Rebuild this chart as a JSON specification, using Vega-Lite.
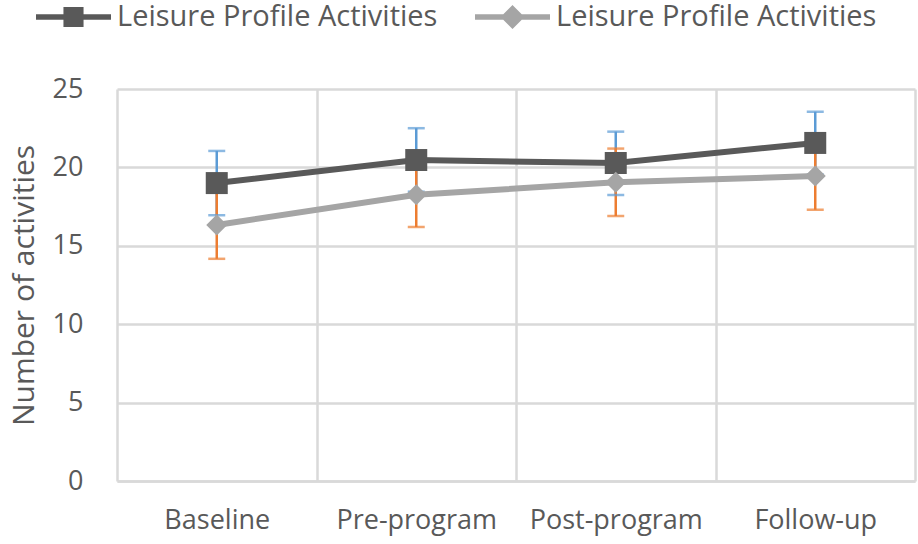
{
  "$schema": "https://vega.github.io/schema/vega-lite/v6.json",
  "width": 798,
  "height": 392,
  "autosize": {"type": "none"},
  "padding": {"left": 117, "top": 89, "right": 3, "bottom": 63},
  "background": "white",
  "data": {
    "values": [
      {"stage": "Baseline", "series": "dark", "mean": 19.0, "low": 16.95, "high": 21.05},
      {"stage": "Pre-program", "series": "dark", "mean": 20.47, "low": 18.45, "high": 22.5},
      {"stage": "Post-program", "series": "dark", "mean": 20.28, "low": 18.24, "high": 22.28},
      {"stage": "Follow-up", "series": "dark", "mean": 21.56, "low": 19.55, "high": 23.55},
      {"stage": "Baseline", "series": "light", "mean": 16.33, "low": 14.17, "high": 18.5},
      {"stage": "Pre-program", "series": "light", "mean": 18.25, "low": 16.2, "high": 20.3},
      {"stage": "Post-program", "series": "light", "mean": 19.05, "low": 16.9, "high": 21.2},
      {"stage": "Follow-up", "series": "light", "mean": 19.45, "low": 17.3, "high": 21.6}
    ]
  },
  "encoding": {
    "x": {
      "field": "stage",
      "type": "nominal",
      "sort": null,
      "title": null,
      "scale": {"type": "band", "paddingInner": 0, "paddingOuter": 0},
      "axis": {
        "labelAngle": 0,
        "labelFontSize": 27,
        "labelPadding": 26,
        "ticks": false,
        "grid": true,
        "tickBand": "extent",
        "domain": true
      }
    }
  },
  "layer": [
    {
      "mark": {"type": "rule", "strokeWidth": 2.5},
      "encoding": {
        "y": {"field": "low", "type": "quantitative", "scale": {"domain": [0, 25], "nice": false}},
        "y2": {"field": "high"},
        "color": {"condition": {"test": "datum.series == 'dark'", "value": "#5B9BD5"}, "value": "#ED7D31"}
      }
    },
    {
      "mark": {"type": "tick", "orient": "horizontal", "size": 17, "thickness": 2.5},
      "encoding": {
        "y": {"field": "low", "type": "quantitative", "scale": {"domain": [0, 25], "nice": false}},
        "color": {"condition": {"test": "datum.series == 'dark'", "value": "#5B9BD5"}, "value": "#ED7D31"}
      }
    },
    {
      "mark": {"type": "tick", "orient": "horizontal", "size": 17, "thickness": 2.5},
      "encoding": {
        "y": {"field": "high", "type": "quantitative", "scale": {"domain": [0, 25], "nice": false}},
        "color": {"condition": {"test": "datum.series == 'dark'", "value": "#5B9BD5"}, "value": "#ED7D31"}
      }
    },
    {
      "mark": {"type": "line", "strokeWidth": 6},
      "encoding": {
        "y": {"field": "mean", "type": "quantitative", "scale": {"domain": [0, 25], "nice": false}},
        "detail": {"field": "series"},
        "color": {"condition": {"test": "datum.series == 'dark'", "value": "#595959"}, "value": "#A5A5A5"}
      }
    },
    {
      "transform": [{"filter": "datum.series == 'dark'"}],
      "mark": {"type": "point", "shape": "square", "filled": true, "opacity": 1, "strokeWidth": 0, "size": 484, "color": "#595959"},
      "encoding": {
        "y": {"field": "mean", "type": "quantitative", "scale": {"domain": [0, 25], "nice": false}}
      }
    },
    {
      "transform": [{"filter": "datum.series == 'light'"}],
      "mark": {"type": "point", "shape": "diamond", "filled": true, "opacity": 1, "strokeWidth": 0, "size": 440, "color": "#A5A5A5"},
      "encoding": {
        "y": {"field": "mean", "type": "quantitative", "scale": {"domain": [0, 25], "nice": false}}
      }
    },
    {
      "mark": {"type": "point", "filled": true, "opacity": 1, "fillOpacity": 1, "strokeWidth": 0},
      "encoding": {
        "y": {
          "field": "mean",
          "type": "quantitative",
          "title": "Number of activities",
          "scale": {"domain": [0, 25], "nice": false},
          "axis": {
            "values": [0, 5, 10, 15, 20, 25],
            "labelFontSize": 27,
            "labelPadding": 34,
            "ticks": false,
            "domain": false,
            "titleFontSize": 30,
            "titleFontWeight": "normal",
            "titlePadding": 13
          }
        },
        "size": {"value": 0},
        "color": {
          "field": "series",
          "type": "nominal",
          "scale": {"domain": ["dark", "light"], "range": ["#595959", "#A5A5A5"]},
          "legend": {
            "orient": "none",
            "legendX": -58.5,
            "legendY": -87,
            "direction": "horizontal",
            "title": null,
            "labelExpr": "'Leisure Profile Activities'",
            "labelFontSize": 29,
            "labelLimit": 500,
            "labelOffset": 28.5,
            "symbolSize": 900,
            "symbolOpacity": 1,
            "symbolStrokeWidth": 0,
            "columnPadding": 37
          }
        },
        "shape": {
          "field": "series",
          "type": "nominal",
          "scale": {
            "domain": ["dark", "light"],
            "range": [
              "M-2.5,-0.18L2.5,-0.18L2.5,0.18L-2.5,0.18Z M-0.67,-0.67L0.67,-0.67L0.67,0.67L-0.67,0.67Z",
              "M-2.5,-0.18L2.5,-0.18L2.5,0.18L-2.5,0.18Z M0,-0.8L0.8,0L0,0.8L-0.8,0Z"
            ]
          }
        }
      }
    }
  ],
  "config": {
    "font": "Open Sans",
    "view": {"stroke": null},
    "axis": {
      "labelColor": "#595959",
      "titleColor": "#595959",
      "gridColor": "#D9D9D9",
      "gridWidth": 2.5,
      "domainColor": "#D9D9D9",
      "domainWidth": 2.5
    },
    "legend": {"labelColor": "#595959"}
  }
}
